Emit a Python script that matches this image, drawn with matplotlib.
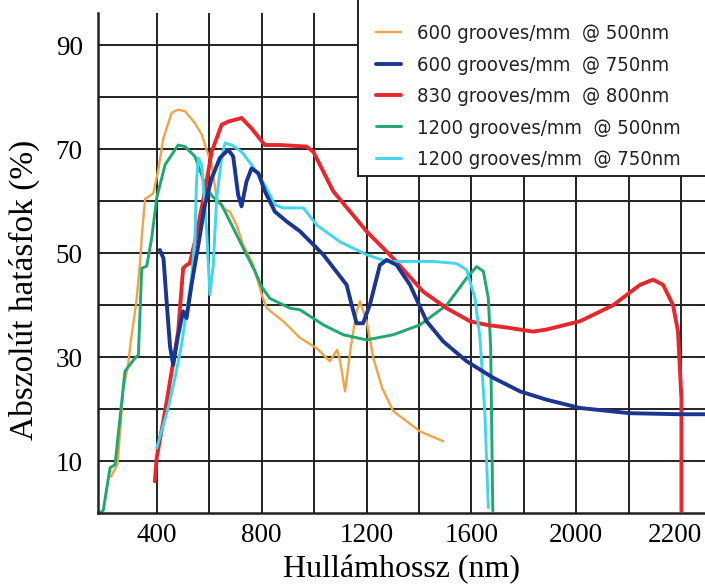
import matplotlib
matplotlib.use("Agg")
import matplotlib.pyplot as plt
from matplotlib.ticker import FixedLocator, FixedFormatter
from matplotlib.patches import Rectangle
from matplotlib.transforms import ScaledTranslation

# ---- data ----
series_labels = ["600 grooves/mm  @ 500nm", "600 grooves/mm  @ 750nm",
                 "830 grooves/mm  @ 800nm", "1200 grooves/mm  @ 500nm",
                 "1200 grooves/mm  @ 750nm"]

orange_x = [225, 250, 272, 290, 300, 320, 335, 345, 355, 361, 386, 405, 424, 456, 481, 507, 545, 571, 596,
            609, 628, 652, 679, 704, 729, 768, 800, 819, 882, 946, 1010, 1060, 1088, 1100, 1118, 1140,
            1162, 1175, 1200, 1226, 1260, 1302, 1404, 1493]
orange_y = [7, 9.5, 24, 28.5, 33, 40, 48, 55, 60.5, 60.6, 61.5, 66, 72, 77, 77.6, 77.3, 75, 72.8, 68.9,
            67, 60.6, 58.6, 58, 55.4, 51.6, 47.7, 42, 39.4, 36.9, 33.7, 31.7, 29.2, 31.4, 29, 23.4, 32,
            38.8, 40.7, 37, 29.8, 24, 19.6, 15.7, 13.8]

blue_x = [411, 425, 435, 450, 462, 480, 500, 513, 532, 558, 583, 609, 640, 672, 691, 710, 723, 742, 761,
          787, 812, 850, 895, 946, 1035, 1124, 1143, 1162, 1187, 1213, 1251, 1277, 1315, 1366, 1429,
          1493, 1582, 1684, 1786, 1887, 2015, 2205, 2396, 2492]
blue_y = [50.6, 49, 42, 32, 28.5, 34, 38.8, 37.5, 43.9, 51.6, 59.3, 64.4, 68.3, 69.9, 68.6, 61.2, 59,
          63.8, 66.3, 65.4, 61.9, 58, 56.1, 54.2, 49.7, 43.9, 40.1, 36.5, 36.5, 40.1, 47.7, 48.7, 47.7,
          43.9, 36.9, 33, 29.2, 26, 23.4, 21.8, 20.2, 19.2, 19, 19]

red_x = [392, 399, 431, 456, 481, 500, 513, 525, 545, 558, 583, 609, 647, 672, 723, 761, 812, 870, 971,
         997, 1073, 1200, 1302, 1416, 1506, 1595, 1658, 1747, 1836, 1887, 2015, 2142, 2244, 2294, 2332,
         2370, 2389, 2402, 2402]
red_y = [6.1, 10.6, 19.6, 27.2, 34.9, 47.1, 47.7, 48, 52.2, 55.4, 61.9, 69.5, 74.7, 75.3, 76, 74, 70.8,
         70.8, 70.5, 69.5, 61.9, 54.2, 49, 42.6, 39.4, 36.9, 36.2, 35.6, 34.9, 35.3, 36.9, 40, 43.9,
         44.9, 43.9, 40, 34.9, 22.1, 0.4]

green_x = [182, 195, 221, 240, 278, 316, 329, 342, 361, 380, 399, 431, 481, 507, 545, 571, 583, 610, 647,
           723, 774, 800, 831, 908, 946, 1035, 1111, 1200, 1302, 1404, 1506, 1582, 1620, 1646, 1665,
           1674, 1678, 1682]
green_y = [0, 0.5, 8.7, 9.3, 27.3, 29.8, 30.4, 47.1, 47.5, 52.9, 60.6, 67, 70.8, 70.5, 68.6, 65, 63.1,
           61, 59.3, 51.6, 46.5, 43.5, 41.3, 39.4, 39.1, 36.2, 34.3, 33.3, 34.3, 36.2, 40, 45.2, 47.4,
           46.5, 41.3, 31.7, 15.7, 0.4]

cyan_x = [399, 443, 469, 494, 513, 532, 545, 551, 558, 571, 590, 602, 615, 628, 647, 660, 685, 723, 761,
          812, 850, 882, 959, 1010, 1098, 1200, 1277, 1404, 1455, 1544, 1582, 1614, 1633, 1652, 1665]
cyan_y = [12.5, 20.2, 26, 32.4, 38.8, 45.2, 52.9, 63.8, 68.3, 67, 54.2, 42, 47.7, 60.6, 68.3, 71.2,
          70.8, 69.5, 67, 63.1, 59.3, 58.7, 58.7, 55.4, 52.2, 49.7, 48.4, 48.4, 48.4, 48, 46.8, 41.3,
          33.7, 18.9, 1]

xtick_pos = [400, 800, 1200, 1600, 2000, 2400]
xtick_labels = ["400", "800", "1200", "1600", "2000", "2200"]
xgrid_pos = [400, 600, 800, 1000, 1200, 1400, 1600, 1800, 2000, 2200, 2400]
ytick_pos = [10, 30, 50, 70, 90]
ytick_labels = ["10", "30", "50", "70", "90"]
ygrid_pos = [10, 20, 30, 40, 50, 60, 70, 80, 90]

# ---- figure ----
serif = ["Liberation Serif", "DejaVu Serif"]
fig = plt.figure(figsize=(7.05, 5.85), dpi=100)
ax = fig.add_axes([98 / 705, 1 - 513 / 585, 1 - 98 / 705, (513 - 13) / 585])
ax.set_xlim(175, 2492)
ax.set_ylim(0, 96.2)

lines = [
    (orange_x, orange_y, "#f0a448", 1.7, 2),
    (blue_x, blue_y, "#1b3591", 2.8, 4),
    (red_x, red_y, "#e8262c", 2.8, 3),
    (green_x, green_y, "#1fa870", 2.1, 2),
    (cyan_x, cyan_y, "#3fd6ee", 2.1, 3),
]
handles = []
for (xs, ys, c, lw, z), lab in zip(lines, series_labels):
    h, = ax.plot(xs, ys, color=c, lw=lw, zorder=z, label=lab, solid_capstyle="round")
    handles.append(h)

ax.xaxis.set_major_locator(FixedLocator(xtick_pos))
ax.xaxis.set_major_formatter(FixedFormatter(xtick_labels))
ax.xaxis.set_minor_locator(FixedLocator(xgrid_pos))
ax.yaxis.set_major_locator(FixedLocator(ytick_pos))
ax.yaxis.set_major_formatter(FixedFormatter(ytick_labels))
ax.yaxis.set_minor_locator(FixedLocator(ygrid_pos))
ax.grid(True, which="both", color="#222222", lw=1.4, zorder=0)
ax.set_axisbelow(True)
ax.tick_params(which="both", length=0)
ax.tick_params(axis="x", pad=7)
ax.tick_params(axis="y", pad=11)
for t in ax.get_xticklabels() + ax.get_yticklabels():
    t.set_fontfamily(serif)
    t.set_fontsize(19.5)
# the last x label sits a little inside the right edge in the reference
last = ax.get_xticklabels()[-1]
last.set_transform(last.get_transform() + ScaledTranslation(-4 / 72, 0, fig.dpi_scale_trans))

for s in ["top", "right"]:
    ax.spines[s].set_visible(False)
for s in ["left", "bottom"]:
    ax.spines[s].set_linewidth(1.8)
    ax.spines[s].set_color("#222222")

ax.set_xlabel("Hullámhossz (nm)", fontfamily=serif, fontsize=23, labelpad=5)
ax.set_ylabel("Abszolút hatásfok (%)", fontfamily=serif, fontsize=24)
ax.yaxis.set_label_coords((40 - 98) / 607, (513 - 290) / 500)

# legend box (open on top and right as in the reference)
rect = Rectangle((358 / 705, 1 - 176 / 585), 0.6, 0.4, transform=fig.transFigure,
                 facecolor="white", edgecolor="#222222", lw=1.4, zorder=5)
fig.patches.append(rect)
leg = fig.legend(handles=handles, loc="upper left", bbox_to_anchor=(366 / 705, 1 - 14 / 585),
                 frameon=False, borderpad=0, handlelength=1.25, handletextpad=0.8,
                 labelspacing=0.62,
                 prop={"family": "DejaVu Sans", "stretch": "condensed", "size": 14.5})
leg.set_zorder(6)
for t in leg.get_texts():
    t.set_color("#222222")

fig.savefig("out.png", dpi=100)
